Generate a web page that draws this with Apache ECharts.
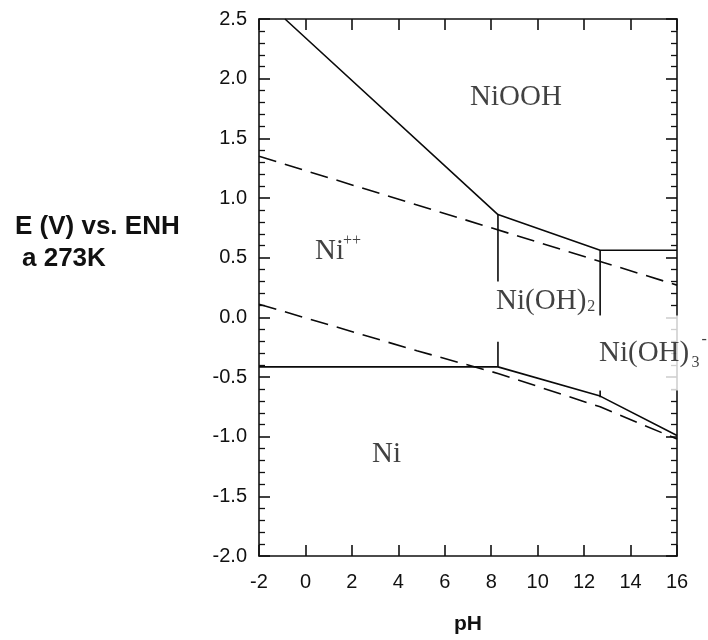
<!DOCTYPE html>
<html><head><meta charset="utf-8">
<script src="https://cdn.jsdelivr.net/npm/echarts@6/dist/echarts.min.js"></script>
<style>html,body{margin:0;padding:0;background:#fff}#c{width:708px;height:640px}</style>
</head><body><div id="c"></div>
<script>
// Axis ranges / ticks
const xTickValues = [-2, 0, 2, 4, 6, 8, 10, 12, 14, 16];
const yTickValues = [-2.0, -1.5, -1.0, -0.5, 0.0, 0.5, 1.0, 1.5, 2.0, 2.5];

// Solid boundary lines (pH, E)
const niooBoundary = [[-0.88, 2.5], [8.29, 0.861], [12.69, 0.562], [16, 0.562]];
const niOH2LeftUpper = [[8.29, 0.861], [8.29, 0.30]];
const niOH2RightUpper = [[12.69, 0.562], [12.69, 0.013]];
const niBoundaryFlat = [[-2, -0.415], [8.29, -0.415]];
const niOH2LeftLower = [[8.29, -0.415], [8.29, -0.204]];
const niBoundarySloped = [[8.29, -0.415], [12.69, -0.66], [16, -0.99]];
const niOH3Tick = [[12.69, -0.61], [12.69, -0.67]];

// Dashed water-stability lines
const oxygenLine = [[-2, 1.35], [16, 0.27]];
const hydrogenLine = [[-2, 0.11], [4.8, -0.28], [8.29, -0.47], [12.69, -0.75], [16, -1.02]];

// Region labels: [pH, E, text, size, masksAxis]
const regionLabels = [
  [7.09, 1.847, 'NiOOH', 'big', false],
  [0.41, 0.553, 'Ni', 'big', false],
  [1.62, 0.645, '++', 'small', false],
  [8.21, 0.137, 'Ni(OH)', 'big', false],
  [12.13, 0.087, '2', 'small', false],
  [12.64, -0.299, 'Ni(OH)', 'big', true],
  [16.62, -0.379, '3', 'small', false],
  [17.05, -0.187, '-', 'small', false],
  [2.87, -1.148, 'Ni', 'big', false]
];

const solidSegments = [niooBoundary, niOH2LeftUpper, niOH2RightUpper, niBoundaryFlat, niOH2LeftLower, niBoundarySloped, niOH3Tick];
const dashedSegments = [oxygenLine, hydrogenLine];

const lineColor = '#0a0a0a';
const series = [];
solidSegments.forEach(seg => series.push({
  type: 'line', data: seg, symbol: 'none', silent: true, animation: false, z: 3,
  lineStyle: { color: lineColor, width: 1.6, type: 'solid' }
}));
dashedSegments.forEach(seg => series.push({
  type: 'line', data: seg, symbol: 'none', silent: true, animation: false, z: 3,
  lineStyle: { color: lineColor, width: 1.6, type: [18, 9] }
}));
series.push({
  type: 'scatter', symbolSize: 0, clip: false, animation: false, silent: true, z: 5,
  data: regionLabels.map(r => ({ value: [r[0], r[1]], name: r[2],
    label: Object.assign({ fontSize: r[3] === 'big' ? 29 : 16 },
      r[4] ? { backgroundColor: '#fff', padding: [19, 0, 27, 0] } : {}) })),
  label: {
    show: true, position: 'right', distance: 0, color: '#111',
    fontFamily: '"Liberation Serif", "Times New Roman", serif',
    formatter: p => p.name
  }
});

const axisLine = { show: true, onZero: false, lineStyle: { color: '#111', width: 1.6 } };
const tickStyle = { inside: true, length: 11, lineStyle: { color: '#111', width: 1.6 } };
const minorStyle = { show: true, splitNumber: 5, length: 6, lineStyle: { color: '#111', width: 1.3 } };
const tickFont = { fontFamily: '"Liberation Sans", Arial, sans-serif', fontSize: 20, color: '#111' };

const chart = echarts.init(document.getElementById('c'), null, { renderer: 'canvas' });
chart.setOption({
  animation: false,
  backgroundColor: '#fff',
  grid: { left: 259, right: 31, top: 19, bottom: 80, containLabel: false },
  xAxis: [
    { type: 'value', min: xTickValues[0], max: xTickValues[xTickValues.length - 1], interval: 2, position: 'bottom',
      axisLine, axisTick: tickStyle,
      axisLabel: Object.assign({ margin: 16 }, tickFont), splitLine: { show: false },
      name: 'pH', nameLocation: 'middle', nameGap: 58,
      nameTextStyle: { fontFamily: '"Liberation Sans", Arial, sans-serif', fontWeight: 'bold', fontSize: 21, color: '#111' } },
    { type: 'value', min: xTickValues[0], max: xTickValues[xTickValues.length - 1], interval: 2, position: 'top',
      axisLine, axisTick: tickStyle,
      axisLabel: { show: false }, splitLine: { show: false } }
  ],
  yAxis: [
    { type: 'value', min: yTickValues[0], max: yTickValues[yTickValues.length - 1], interval: 0.5, position: 'left',
      axisLine, axisTick: tickStyle, minorTick: minorStyle,
      axisLabel: Object.assign({ margin: 12, formatter: v => v.toFixed(1) }, tickFont), splitLine: { show: false } },
    { type: 'value', min: yTickValues[0], max: yTickValues[yTickValues.length - 1], interval: 0.5, position: 'right',
      axisLine, axisTick: tickStyle, minorTick: minorStyle,
      axisLabel: { show: false }, splitLine: { show: false } }
  ],
  graphic: [
    { type: 'text', left: 15, top: 214, style: { text: 'E (V) vs. ENH', fontFamily: '"Liberation Sans", Arial, sans-serif', fontWeight: 'bold', fontSize: 26, fill: '#111' } },
    { type: 'text', left: 22, top: 246, style: { text: 'a 273K', fontFamily: '"Liberation Sans", Arial, sans-serif', fontWeight: 'bold', fontSize: 26, fill: '#111' } }
  ],
  series
});
</script></body></html>
